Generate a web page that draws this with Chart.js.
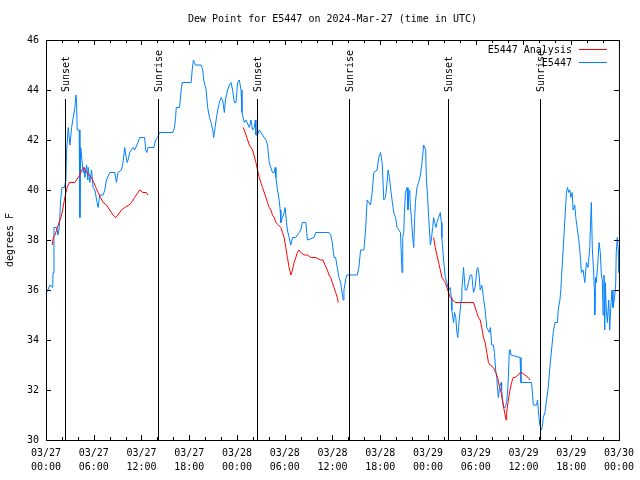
<!DOCTYPE html>
<html lang="en">
<head>
<meta charset="UTF-8">
<title>Dew Point for E5447</title>
<script src="https://cdn.jsdelivr.net/npm/chart.js@4.4.0/dist/chart.umd.min.js"></script>
<style>
  html, body { margin: 0; padding: 0; background: #fff; }
</style>
</head>
<body>
<canvas id="dewChart" width="640" height="480"></canvas>
<script>
// hours since 03/27 00:00 UTC
const blueHours = [
  0.09, 0.50, 0.84, 0.88, 1.00, 1.34, 1.50, 1.67, 1.84, 2.00, 2.32, 2.50, 2.59, 2.67, 2.79, 3.01,
  3.22, 3.42, 3.63, 3.76, 3.84, 3.92, 4.17, 4.26, 4.36, 4.55, 4.67, 4.76, 4.88, 5.10, 5.26, 5.30,
  5.51, 5.72, 5.92, 6.14, 6.42, 6.55, 6.76, 7.18, 7.39, 7.60, 8.01, 8.64, 8.85, 9.05, 9.48, 9.68,
  9.89, 10.18, 10.31, 10.52, 10.93, 11.14, 11.56, 11.77, 12.40, 12.52, 12.68, 12.81, 13.56, 13.77,
  14.02, 14.28, 15.94, 16.15, 16.28, 16.37, 16.78, 16.99, 17.12, 18.24, 18.37, 18.53, 18.66, 18.78,
  19.50, 19.70, 19.82, 20.12, 20.32, 20.54, 20.75, 20.95, 21.07, 21.25, 21.38, 21.58, 21.79, 22.00,
  22.20, 22.41, 22.54, 22.83, 23.04, 23.25, 23.45, 23.67, 23.88, 24.08, 24.29, 24.51, 24.63, 24.92,
  25.13, 25.55, 25.76, 25.96, 26.17, 26.30, 26.38, 26.58, 26.80, 27.21, 27.64, 27.84, 28.05, 28.26,
  28.46, 28.68, 28.80, 28.89, 29.09, 29.30, 29.43, 29.51, 29.72, 29.93, 30.05, 30.22, 30.34, 30.55,
  30.77, 30.97, 31.39, 31.59, 31.81, 32.02, 32.22, 32.65, 32.77, 32.85, 33.68, 33.90, 35.15, 35.56,
  35.78, 35.98, 36.19, 36.40, 36.60, 36.82, 37.03, 37.15, 37.35, 37.44, 37.65, 37.78, 39.11, 39.32,
  39.53, 39.95, 40.16, 40.36, 40.57, 40.78, 40.99, 41.20, 41.61, 41.82, 42.04, 42.24, 42.45, 42.66,
  42.86, 42.99, 43.16, 43.29, 43.49, 43.70, 43.92, 44.12, 44.54, 44.74, 44.83, 44.96, 45.04, 45.17,
  45.37, 45.49, 45.58, 45.71, 45.79, 45.92, 46.08, 46.21, 46.33, 46.42, 46.62, 46.83, 47.05, 47.25,
  47.46, 47.71, 47.80, 47.96, 48.09, 48.30, 48.42, 48.59, 48.71, 48.84, 49.00, 49.12, 49.34, 49.55,
  49.68, 49.75, 49.96, 50.18, 50.38, 50.59, 50.80, 50.93, 51.00, 51.22, 51.34, 51.50, 51.63, 51.75,
  51.84, 52.05, 52.18, 52.26, 52.47, 52.68, 52.88, 53.09, 53.31, 53.51, 53.72, 53.93, 54.13, 54.26,
  54.43, 54.56, 54.76, 54.97, 55.19, 55.39, 55.72, 55.85, 56.01, 56.22, 56.35, 56.51, 56.64, 56.76,
  56.85, 56.98, 57.19, 57.26, 57.35, 57.48, 57.69, 57.89, 58.02, 58.10, 58.23, 58.35, 58.44, 59.57,
  59.69, 61.02, 61.24, 61.65, 61.77, 61.95, 62.07, 62.27, 62.40, 62.49, 62.70, 62.90, 63.11, 63.32,
  63.53, 63.74, 63.95, 64.28, 64.36, 64.58, 64.70, 64.78, 64.99, 65.20, 65.33, 65.40, 65.53, 65.70,
  65.83, 65.95, 66.12, 66.24, 66.45, 66.58, 66.78, 66.96, 67.16, 67.28, 67.49, 67.71, 67.91, 68.12,
  68.33, 68.46, 68.53, 68.66, 68.81, 68.91, 68.96, 69.06, 69.16, 69.37, 69.50, 69.66, 69.79, 69.91,
  70.00, 70.12, 70.21, 70.29, 70.41, 70.54, 70.71, 70.84, 70.96, 71.13, 71.25, 71.46, 71.59, 71.66,
  71.79, 71.91, 72.00
];
const blueValues = [
  35.9, 36.2, 36.1, 36.7, 38.5, 38.5, 38.2, 38.5, 39.6, 40.1, 40.1, 40.4, 41.6, 41.9, 42.5, 41.8,
  42.5, 42.9, 43.3, 43.8, 43.5, 42.4, 42.4, 38.9, 41.7, 41.1, 40.7, 40.9, 40.5, 41.0, 40.4, 40.9,
  40.3, 40.8, 40.1, 40.0, 39.5, 39.3, 39.8, 39.8, 40.0, 40.4, 40.7, 40.7, 40.3, 40.7, 40.8, 41.1,
  41.7, 41.1, 41.2, 41.5, 41.7, 41.6, 41.9, 42.1, 42.1, 41.6, 41.5, 41.7, 41.7, 42.0,
  42.1, 42.3, 42.3, 42.5, 42.9, 43.3, 43.3, 44.0, 44.3, 44.3, 44.8, 45.2, 45.1, 45.0,
  45.0, 44.8, 44.4, 44.0, 43.3, 42.9, 42.7, 42.4, 42.1, 42.5, 42.8, 43.2, 43.5, 43.7,
  43.6, 43.1, 43.6, 44.0, 44.2, 44.3, 44.0, 43.5, 43.5, 44.3, 44.4, 44.0, 43.1, 42.7,
  42.8, 42.5, 42.8, 42.4, 42.5, 42.8, 42.2, 42.2, 42.4, 42.2, 42.0, 41.8, 41.1, 40.9,
  40.7, 40.7, 40.9, 40.5, 40.0, 39.6, 39.2, 38.7, 38.9, 39.1, 39.3, 38.7, 38.4, 38.1,
  37.8, 38.1, 38.1, 38.2, 38.3, 38.4, 38.7, 38.7, 38.3, 38.0, 38.1, 38.3, 38.3, 38.3,
  38.2, 37.9, 37.3, 37.3, 36.9, 36.5, 36.3, 36.0, 35.6, 36.0, 36.4, 36.6, 36.6, 36.9,
  37.6, 37.6, 38.4, 39.6, 39.5, 39.4, 39.9, 40.7, 40.8, 41.3, 41.5, 41.1, 39.6, 39.7,
  40.3, 40.8, 40.5, 40.1, 39.6, 39.1, 38.9, 38.5, 38.3, 36.7, 38.1, 38.3, 39.1, 39.9,
  40.1, 39.2, 39.8, 40.0, 39.3, 38.9, 38.1, 37.7, 38.9, 39.5, 40.1, 40.3, 40.6, 41.1,
  41.8, 41.6, 40.5, 39.7, 38.9, 37.8, 38.0, 38.5, 38.9, 38.7, 38.5, 38.7, 38.9, 39.1,
  38.7, 38.1, 37.2, 36.5, 36.3, 36.0, 36.1, 35.7, 35.2, 34.7, 35.1, 34.9, 34.3, 34.1,
  34.5, 35.2, 35.6, 36.0, 36.9, 36.0, 36.0, 36.3, 36.6, 36.6, 35.9, 36.1, 36.8, 36.9,
  36.6, 36.0, 36.2, 35.7, 35.2, 34.5, 34.3, 34.5, 33.8, 33.8, 33.5, 32.8, 32.5, 32.0,
  31.7, 32.1, 32.3, 32.0, 31.7, 31.3, 31.3, 31.5, 32.0, 32.5, 33.6, 33.6, 33.4, 33.3,
  32.3, 32.3, 31.4, 31.4, 31.6, 30.9, 30.6, 30.4, 30.6, 30.9, 31.1, 31.6, 32.1, 32.9,
  33.6, 34.3, 34.7, 34.7, 35.2, 35.6, 36.0, 36.5, 37.6, 38.8, 39.5, 39.9, 40.1, 39.9,
  40.0, 39.7, 39.9, 39.2, 39.4, 38.9, 38.4, 38.0, 37.3, 36.7, 36.8, 36.3, 37.1, 36.9,
  37.7, 38.9, 39.5, 37.6, 36.8, 36.0, 35.0, 36.5, 36.3, 37.2, 37.9, 37.5, 36.6, 36.4,
  35.0, 36.6, 34.4, 36.3, 35.2, 34.7, 35.6, 34.4, 35.3, 36.0, 35.3, 35.7, 36.2, 37.5,
  38.1, 37.6, 36.7
];

// analysis series, null marks a gap
const redHours = [
  0.79, 0.91, 1.13, 1.34, 1.54, 1.75, 1.88, 2.09, 2.25, 2.50, 2.67, 2.92, 3.22, 3.63, 3.84, 4.04,
  4.26, 4.47, 4.80, 5.10, 5.42, 5.72, 6.01, 6.26, 6.55, 6.85, 7.18, 7.60, 8.01, 8.43, 8.77, 9.05,
  9.48, 9.89, 10.43, 10.73, 11.14, 11.56, 11.77, 12.18, 12.61, 12.81,
  18.00,
  24.79, 25.13, 25.34, 25.55, 25.96, 26.38, 26.58, 26.80, 27.00, 27.21, 27.64, 27.84, 28.05, 28.26,
  28.46, 28.68, 28.89, 29.21, 29.51, 29.72, 29.93, 30.13, 30.34, 30.55, 30.77, 30.97, 31.18, 31.39,
  31.59, 31.81, 32.02, 32.43, 32.85, 33.27, 33.90, 34.52, 34.81, 35.06, 35.35, 35.56, 35.78, 35.98,
  36.19, 36.40, 36.60, 36.73,
  42.00,
  48.71, 48.92, 49.12, 49.34, 49.55, 49.75, 49.96, 50.18, 50.38, 50.59, 50.80, 51.42, 52.26, 53.09,
  53.72, 53.93, 54.13, 54.35, 54.56, 54.76, 54.97, 55.19, 55.39, 55.60, 55.81, 56.22, 56.51, 56.76,
  56.94, 57.19, 57.35, 57.52, 57.69, 57.82, 57.89, 58.10, 58.31, 58.51, 58.72, 58.93, 59.35, 59.57,
  59.77, 60.19, 60.60, 60.81
];
const redValues = [
  37.8, 38.1, 38.2, 38.4, 38.6, 38.8, 38.9, 39.2, 39.5, 39.9, 40.1, 40.3, 40.3, 40.3, 40.4, 40.5,
  40.6, 40.8, 40.9, 40.7, 40.6, 40.5, 40.3, 40.1, 39.9, 39.7, 39.5, 39.4, 39.2, 39.0, 38.9, 39.0,
  39.2, 39.3, 39.4, 39.5, 39.7, 39.9, 40.0, 39.9, 39.9, 39.8,
  null,
  42.5, 42.2, 42.0, 41.8, 41.6, 41.1, 40.8, 40.5, 40.3, 40.1, 39.7, 39.5, 39.3, 39.2,
  39.0, 38.9, 38.7, 38.6, 38.5, 38.3, 38.1, 37.7, 37.3, 36.9, 36.6, 36.8, 37.1, 37.3,
  37.5, 37.6, 37.5, 37.4, 37.4, 37.3, 37.3, 37.2, 37.2, 37.0, 36.8, 36.6, 36.5, 36.3,
  36.1, 35.9, 35.7, 35.5,
  null,
  38.1, 37.7, 37.4, 37.1, 36.8, 36.5, 36.4, 36.3, 36.1, 35.9, 35.7, 35.5, 35.5, 35.5,
  35.5, 35.3, 35.1, 34.9, 34.8, 34.5, 34.1, 33.9, 33.5, 33.1, 33.0, 32.9, 32.7, 32.5,
  32.2, 31.9, 31.6, 31.3, 31.0, 30.8, 31.1, 31.6, 32.0, 32.3, 32.5, 32.5, 32.6, 32.7,
  32.7, 32.6, 32.5, 32.4
];

const sunHours = [2.42, 14.06, 26.46, 38.10, 50.55, 62.03];
const sunLabels = ['Sunset', 'Sunrise', 'Sunset', 'Sunrise', 'Sunset', 'Sunrise'];

const FONT = '10px "DejaVu Sans Mono", monospace';

function toPoints(hours, values) {
    return hours.map((h, i) => ({ x: h, y: values[i] }));
}

function hourLabel(h) {
    const day = 27 + Math.floor(h / 24);
    const hh = Math.round(h % 24);
    return ['03/' + day, String(hh).padStart(2, '0') + ':00'];
}

// gnuplot-like frame, inward ticks, sun markers, legend, titles
const gnuplotDecor = {
    id: 'gnuplotDecor',
    afterDatasetsDraw(chart) {
        const { ctx, chartArea: a, scales: { x, y } } = chart;
        ctx.save();
        ctx.strokeStyle = '#000';
        ctx.fillStyle = '#000';
        ctx.lineWidth = 1;
        ctx.font = FONT;

        // sunrise / sunset lines
        sunHours.forEach((h, i) => {
            const px = Math.round(x.getPixelForValue(h)) + 0.5;
            ctx.beginPath();
            ctx.moveTo(px, a.top + 59);
            ctx.lineTo(px, a.bottom);
            ctx.stroke();
            ctx.save();
            ctx.translate(px + 1, a.top + 52);
            ctx.rotate(-Math.PI / 2);
            ctx.textAlign = 'left';
            ctx.textBaseline = 'middle';
            ctx.fillText(sunLabels[i], 0, 0);
            ctx.restore();
        });

        // frame
        ctx.strokeRect(a.left + 0.5, a.top + 0.5, a.right - a.left, a.bottom - a.top);

        // x ticks: major every 6h, minor every 2h, top and bottom
        for (let h = x.min; h <= x.max; h += 2) {
            const px = Math.round(x.getPixelForValue(h)) + 0.5;
            const len = (h % 6 === 0) ? 5 : 3;
            ctx.beginPath();
            ctx.moveTo(px, a.bottom);
            ctx.lineTo(px, a.bottom - len);
            ctx.moveTo(px, a.top);
            ctx.lineTo(px, a.top + len);
            ctx.stroke();
        }
        // y ticks left and right
        y.ticks.forEach(t => {
            const py = Math.round(y.getPixelForValue(t.value)) + 0.5;
            ctx.beginPath();
            ctx.moveTo(a.left, py);
            ctx.lineTo(a.left + 5, py);
            ctx.moveTo(a.right, py);
            ctx.lineTo(a.right - 5, py);
            ctx.stroke();
        });

        // legend, top right
        chart.data.datasets.forEach((ds, i) => {
            const ly = a.top + 10 + i * 13;
            ctx.textAlign = 'right';
            ctx.textBaseline = 'middle';
            ctx.fillStyle = '#000';
            ctx.fillText(ds.label, a.right - 47, ly);
            ctx.strokeStyle = ds.borderColor;
            ctx.beginPath();
            ctx.moveTo(a.right - 40, Math.round(ly) - 0.5);
            ctx.lineTo(a.right - 12, Math.round(ly) - 0.5);
            ctx.stroke();
        });

        // title
        ctx.fillStyle = '#000';
        ctx.textAlign = 'center';
        ctx.textBaseline = 'middle';
        ctx.fillText('Dew Point for E5447 on 2024-Mar-27 (time in UTC)', (a.left + a.right) / 2, 19);

        // y axis title
        ctx.save();
        ctx.translate(10, (a.top + a.bottom) / 2);
        ctx.rotate(-Math.PI / 2);
        ctx.fillText('degrees F', 0, 0);
        ctx.restore();

        ctx.restore();
    }
};

new Chart(document.getElementById('dewChart'), {
    type: 'line',
    data: {
        datasets: [
            {
                label: 'E5447 Analysis',
                data: toPoints(redHours, redValues),
                borderColor: '#ff0000',
                borderWidth: 1,
                pointRadius: 0,
                spanGaps: false,
                tension: 0
            },
            {
                label: 'E5447',
                data: toPoints(blueHours, blueValues),
                borderColor: '#0080ff',
                borderWidth: 1,
                pointRadius: 0,
                tension: 0
            }
        ]
    },
    options: {
        responsive: false,
        animation: false,
        devicePixelRatio: 1,
        layout: { padding: { top: 40, right: 19, left: 0, bottom: 0 } },
        plugins: {
            legend: { display: false },
            title: { display: false },
            tooltip: { enabled: false }
        },
        scales: {
            x: {
                type: 'linear',
                min: 0,
                max: 72,
                grid: { display: false, drawTicks: false },
                border: { display: false },
                afterFit: s => { s.height = 40; },
                ticks: {
                    stepSize: 6,
                    autoSkip: false,
                    maxRotation: 0,
                    padding: 6,
                    color: '#000',
                    font: { family: '"DejaVu Sans Mono", monospace', size: 10, lineHeight: 1.4 },
                    callback: v => hourLabel(v)
                }
            },
            y: {
                min: 30,
                max: 46,
                grid: { display: false, drawTicks: false },
                border: { display: false },
                afterFit: s => { s.width = 46; },
                ticks: {
                    stepSize: 2,
                    padding: 7,
                    color: '#000',
                    font: { family: '"DejaVu Sans Mono", monospace', size: 10 }
                }
            }
        }
    },
    plugins: [gnuplotDecor]
});
</script>
</body>
</html>
